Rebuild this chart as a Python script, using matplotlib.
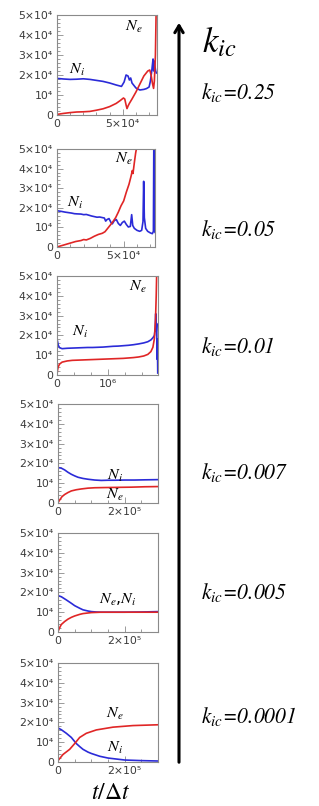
import matplotlib
matplotlib.use('Agg')
import matplotlib.pyplot as plt
from matplotlib.ticker import FixedLocator, FixedFormatter, MultipleLocator

plt.rcParams['mathtext.fontset'] = 'stix'

# -- k_ic values, top to bottom
k_labels = ['0.25', '0.05', '0.01', '0.007', '0.005', '0.0001']

# -- k_ic = 0.25
t_i_025 = [0, 5000, 10000, 15000, 20000, 25000, 30000, 35000, 40000, 45000, 49000, 51000, 52500, 54000,
           55000, 56000, 57000, 60000, 63000, 66000, 68000, 70000, 71000, 72000, 72500, 73000, 73500,
           74000, 74500, 75000, 75500]
n_i_025 = [18300, 18000, 17800, 17900, 18100, 17800, 17300, 16800, 16000, 15000, 14300, 16500, 20000, 19500,
           17500, 18500, 16000, 13500, 12500, 12800, 13200, 14000, 17000, 22000, 25000, 28000, 22000,
           27000, 24000, 22000, 21000]
t_e_025 = [0, 5000, 10000, 15000, 20000, 25000, 30000, 35000, 40000, 45000, 48000, 50500, 51500, 52500,
           53200, 54000, 55000, 57000, 60000, 63000, 66000, 69000, 70500, 71500, 72500, 73400, 74000,
           74800, 75300, 75800]
n_e_025 = [300, 800, 1200, 1500, 1600, 1800, 2400, 3100, 4200, 5800, 7200, 8500, 8000, 5000,
           3200, 4500, 5800, 8000, 11500, 15500, 19500, 22000, 22500, 20000, 16000, 13300, 17000,
           30000, 50000, 53000]

# -- k_ic = 0.05
t_i_005 = [0, 3000, 6000, 9000, 11000, 13000, 15000, 18000, 20000, 22000, 24000, 26000, 28000, 30000,
           32000, 34000, 35500, 36500, 37500, 39000, 40500, 41500, 43000, 44500, 46000, 47500, 49000,
           50500, 52000, 53500, 55000, 56000, 56800, 58000, 60000, 62000, 63500, 64500, 65000, 65500,
           66500, 68000, 70000, 71500, 72300, 72600, 72900, 73100, 73500]
n_i_005 = [18500, 18200, 17800, 17500, 17300, 17000, 16900, 16800, 16500, 16600, 16200, 15800, 15500, 15200,
           15300, 15000, 14800, 13200, 14000, 14500, 12500, 11800, 13500, 14000, 12000, 11000, 12500,
           13200, 11500, 10200, 10500, 16500, 11000, 9500, 8500, 8000, 8500, 13000, 33500, 15000,
           9500, 8000, 7200, 6800, 8000, 50000, 50000, 8000, 7500]
t_e_005 = [0, 3000, 6000, 10000, 14000, 18000, 20000, 22000, 25000, 28000, 31000, 34000, 36000, 38000,
           40000, 42000, 44000, 46000, 48000, 50000, 52000, 54000, 55500, 56500, 57000, 58000, 59000, 59800]
n_e_005 = [0, 600, 1200, 2000, 2800, 3300, 3800, 3600, 4400, 5500, 6400, 7000, 7800, 9500,
           11200, 13000, 15000, 17800, 21000, 23500, 28000, 32000, 36000, 39000, 37500, 43000, 48000, 51000]

# -- k_ic = 0.01
t_i_001 = [0, 10000, 25000, 50000, 100000, 200000, 300000, 400000, 500000, 600000, 700000, 800000,
           900000, 1000000, 1100000, 1200000, 1300000, 1400000, 1500000, 1600000, 1700000, 1780000,
           1840000, 1880000, 1910000, 1925000, 1935000, 1945000, 1955000, 1962000, 1968000, 1975000]
n_i_001 = [18000, 17000, 15000, 13800, 13300, 13500, 13600, 13700, 13800, 13900, 13900, 14000,
           14100, 14300, 14500, 14600, 14800, 15000, 15300, 15700, 16200, 16800,
           17700, 18800, 20000, 24000, 31000, 22000, 26000, 8000, 18000, 1000]
t_e_001 = [0, 10000, 25000, 50000, 100000, 200000, 300000, 500000, 700000, 900000, 1100000, 1300000,
           1500000, 1600000, 1700000, 1780000, 1840000, 1880000, 1910000, 1930000, 1945000, 1955000]
n_e_001 = [200, 2500, 4200, 5500, 6500, 7100, 7400, 7600, 7800, 8000, 8200, 8400,
           8800, 9100, 9600, 10400, 11800, 14000, 18500, 27000, 40000, 52000]

# -- k_ic = 0.007
t_i_0007 = [0, 10000, 20000, 30000, 40000, 50000, 60000, 75000, 90000, 110000, 130000, 150000,
            170000, 200000, 230000, 260000, 300000]
n_i_0007 = [17900, 17600, 16700, 15500, 14500, 13700, 13000, 12400, 12000, 11600, 11400, 11500,
            11500, 11600, 11600, 11700, 11800]
t_e_0007 = [0, 5000, 12000, 20000, 30000, 40000, 55000, 70000, 90000, 110000, 140000, 180000,
            220000, 260000, 300000]
n_e_0007 = [200, 1500, 3200, 4300, 5300, 6100, 6700, 7100, 7500, 7700, 7800, 7900, 8000, 8200, 8300]

# -- k_ic = 0.005
t_i_0005 = [0, 10000, 25000, 40000, 50000, 65000, 75000, 90000, 100000, 115000, 130000, 160000,
            200000, 250000, 300000]
n_i_0005 = [18400, 17800, 16200, 14500, 13300, 12000, 11200, 10600, 10300, 10100, 10000, 10000,
            10000, 10100, 10300]
t_e_0005 = [0, 5000, 10000, 20000, 30000, 40000, 50000, 65000, 75000, 90000, 100000, 115000, 130000,
            160000, 200000, 250000, 300000]
n_e_0005 = [300, 2200, 3800, 5300, 6500, 7400, 8100, 8900, 9300, 9600, 9800, 9900, 10000,
            10000, 10000, 10000, 10000]

# -- k_ic = 0.0001
t_i_00001 = [0, 10000, 25000, 40000, 55000, 65000, 75000, 90000, 100000, 125000, 150000, 175000,
             200000, 250000, 300000]
n_i_00001 = [17200, 16300, 14500, 12400, 9300, 7800, 6400, 5000, 4300, 2900, 2000, 1500, 1000, 700, 500]
t_e_00001 = [0, 15000, 35000, 50000, 65000, 85000, 115000, 165000, 225000, 300000]
n_e_00001 = [700, 3800, 6400, 9300, 12400, 14500, 16200, 17600, 18400, 18800]

series = [
    (t_i_025, n_i_025, t_e_025, n_e_025),
    (t_i_005, n_i_005, t_e_005, n_e_005),
    (t_i_001, n_i_001, t_e_001, n_e_001),
    (t_i_0007, n_i_0007, t_e_0007, n_e_0007),
    (t_i_0005, n_i_0005, t_e_0005, n_e_0005),
    (t_i_00001, n_i_00001, t_e_00001, n_e_00001),
]

x_max = [7.6e4, 7.35e4, 1.98e6, 3e5, 3e5, 3e5]
x_major = [[0, 5e4], [0, 5e4], [0, 1e6], [0, 2e5], [0, 2e5], [0, 2e5]]
x_major_labels = [['0', '5×10⁴'], ['0', '5×10⁴'], ['0', '10⁶'], ['0', '2×10⁵'], ['0', '2×10⁵'], ['0', '2×10⁵']]
x_minor = [1e4, 1e4, 1e6 / 3, 5e4, 5e4, 5e4]

y_ticks = [0, 1e4, 2e4, 3e4, 4e4, 5e4]
y_tick_labels = ['0', '10⁴', '2×10⁴', '3×10⁴', '4×10⁴', '5×10⁴']

# -- curve labels: (text, x, y) in data units
curve_labels = [
    [(r'$N_e$', 5.8e4, 4.4e4), (r'$N_i$', 1.5e4, 2.25e4)],
    [(r'$N_e$', 5.0e4, 4.5e4), (r'$N_i$', 1.36e4, 2.24e4)],
    [(r'$N_e$', 1.59e6, 4.44e4), (r'$N_i$', 4.5e5, 2.17e4)],
    [(r'$N_i$', 1.71e5, 1.37e4), (r'$N_e$', 1.71e5, 4.3e3)],
    [(r'$N_e$,$N_i$', 1.8e5, 1.6e4)],
    [(r'$N_e$', 1.7e5, 2.45e4), (r'$N_i$', 1.7e5, 7.2e3)],
]

# -- panel boxes in pixels: left, top, right, bottom
W, H = 319, 806
boxes = [(57, 15, 157, 115), (57, 149, 155, 247), (57, 276, 158, 375),
         (58, 404, 158, 503), (58, 533, 158, 632), (58, 663, 158, 762)]

fig = plt.figure(figsize=(W / 100, H / 100), dpi=100)

blue = '#2b2bd8'
red = '#e02626'
spine_col = '#8a8a8a'

for i, (l, t, r, b) in enumerate(boxes):
    ax = fig.add_axes([l / W, 1 - b / H, (r - l) / W, (b - t) / H])
    ti, ni, te, ne = series[i]
    ax.plot(ti, ni, color=blue, linewidth=1.2)
    ax.plot(te, ne, color=red, linewidth=1.2)
    ax.set_xlim(0, x_max[i])
    ax.set_ylim(0, 5e4)

    ax.yaxis.set_major_locator(FixedLocator(y_ticks))
    ax.yaxis.set_major_formatter(FixedFormatter(y_tick_labels))
    ax.yaxis.set_minor_locator(MultipleLocator(2000))
    ax.xaxis.set_major_locator(FixedLocator(x_major[i]))
    ax.xaxis.set_major_formatter(FixedFormatter(x_major_labels[i]))
    ax.xaxis.set_minor_locator(MultipleLocator(x_minor[i]))

    ax.tick_params(which='both', direction='in', colors=spine_col, labelcolor='#3a3a3a',
                   labelsize=7.8, width=0.6)
    ax.tick_params(which='major', length=4, pad=3)
    ax.tick_params(which='minor', length=2)
    for s in ax.spines.values():
        s.set_color(spine_col)
        s.set_linewidth(0.8)

    for txt, x, y in curve_labels[i]:
        ax.text(x, y, txt, fontsize=11.5, ha='center', va='center', color='black')

# -- x-axis label under the bottom panel
fig.text(111 / W, 1 - 792 / H, r'$t/\Delta t$', fontsize=17, ha='center', va='center')

# -- vertical k_ic arrow
fig.add_artist(matplotlib.patches.FancyArrowPatch(
    (179 / W, 1 - 765 / H), (179 / W, 1 - 20 / H), transform=fig.transFigure,
    arrowstyle='->,head_length=5,head_width=3', color='black', linewidth=2.2))

fig.text(202 / W, 1 - 42 / H, r'$k_{ic}$', fontsize=25, ha='left', va='center')

label_y = [93, 230, 347, 472, 593, 717]
for k, y in zip(k_labels, label_y):
    fig.text(201 / W, 1 - y / H, r'$k_{ic}$' + '=' + k, fontsize=15.5, ha='left', va='center',
             family='STIXGeneral', style='italic')

fig.savefig('out.png', dpi=100)
